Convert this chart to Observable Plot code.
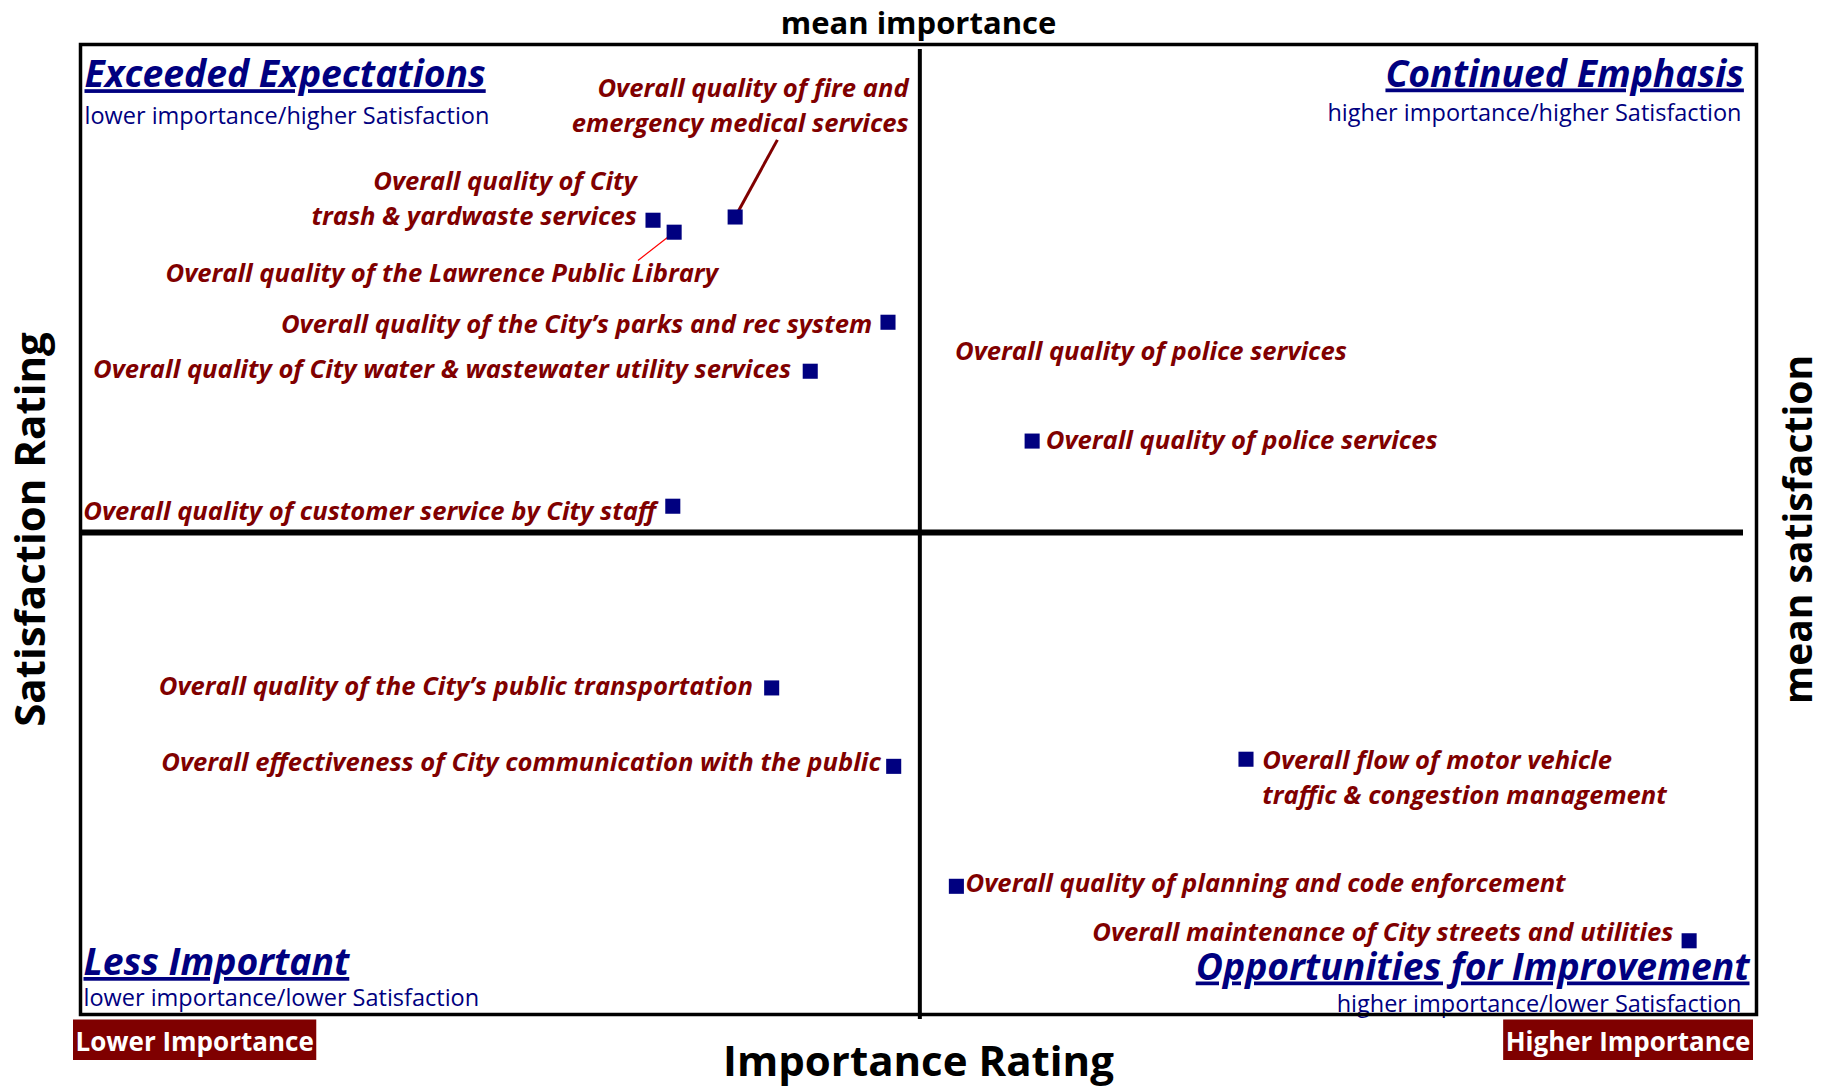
<!DOCTYPE html>
<html>
<head>
<meta charset="utf-8">
<script src="https://cdn.jsdelivr.net/npm/d3@7"></script>
<script src="https://cdn.jsdelivr.net/npm/@observablehq/plot@0.6"></script>
<style>
  html, body { margin: 0; padding: 0; background: #ffffff; }
  #chart svg { display: block; }
</style>
</head>
<body>
<div id="chart"></div>
<script>
// ---------------- DATA ----------------
const services = [
  "fire", "trash", "library", "parks", "water", "customer",
  "police", "transit", "communication", "traffic", "planning", "streets"
];
const serviceLabels = [
  "Overall quality of fire and\nemergency medical services",
  "Overall quality of City\ntrash & yardwaste services",
  "Overall quality of the Lawrence Public Library",
  "Overall quality of the City’s parks and rec system",
  "Overall quality of City water & wastewater utility services",
  "Overall quality of customer service by City staff",
  "Overall quality of police services",
  "Overall quality of the City’s public transportation",
  "Overall effectiveness of City communication with the public",
  "Overall flow of motor vehicle\ntraffic & congestion management",
  "Overall quality of planning and code enforcement",
  "Overall maintenance of City streets and utilities"
];
// importance (x) and satisfaction (y)
const importance   = [19.53, 17.08, 17.71, 24.09, 21.77, 17.67, 28.39, 20.62, 24.26, 34.77, 26.13, 47.99];
const satisfaction = [89.33, 89.13, 88.39, 82.82, 79.79, 71.44, 75.47, 60.20, 55.35, 55.79, 47.93, 44.56];

const meanImportance = 25.04;
const meanSatisfaction = 69.81;
const importanceDomain = [0, 50];
const satisfactionDomain = [40, 100];

// a second, free-standing label for police services
const extraLabelService = "police";
const extraLabelText = "Overall quality of police services";

// leader lines: from a label (importance, satisfaction) to its service's point
const leaderServices = ["fire", "library"];
const leaderImportance = [20.79, 16.63];
const leaderSatisfaction = [94.10, 86.64];

const quadrantTitles = ["Exceeded Expectations", "Continued Emphasis", "Less Important", "Opportunities for Improvement"];
const quadrantSubtitles = [
  "lower importance/higher Satisfaction",
  "higher importance/higher Satisfaction",
  "lower importance/lower Satisfaction",
  "higher importance/lower Satisfaction"
];
const importanceEnds = ["Lower Importance", "Higher Importance"];
const axisTitles = {top: "mean importance", bottom: "Importance Rating", left: "Satisfaction Rating", right: "mean satisfaction"};

// ---------------- TABLES ----------------
const rows = services.map((s, i) => ({
  service: s, label: serviceLabels[i], importance: importance[i], satisfaction: satisfaction[i]
}));
const byService = Object.fromEntries(rows.map(d => [d.service, d]));
const leaders = leaderServices.map((s, i) => ({
  service: s,
  fromImportance: leaderImportance[i], fromSatisfaction: leaderSatisfaction[i],
  toImportance: byService[s].importance, toSatisfaction: byService[s].satisfaction
}));

// ---------------- STYLE / LAYOUT ----------------
const FONT = "'Open Sans', 'Noto Sans', sans-serif";
const labelStyle = {
  fontFamily: FONT, fontSize: 25.6, fontWeight: "bold", fontStyle: "italic",
  fill: "#800000", lineHeight: 1.367, lineAnchor: "bottom"
};
// label nudges in pixels relative to each point (textAnchor, dx, dy to baseline of last line)
const labelNudge = {
  fire:          ["end",   173.5, -84.8],
  trash:         ["end",   -16.2,   5.2],
  library:       ["end",    43.8,  50.0],
  parks:         ["end",   -15.9,  11.0],
  water:         ["end",   -19.1,   6.5],
  customer:      ["end",   -16.7,  14.2],
  police:        ["start",  13.6,   7.8],
  transit:       ["end",   -18.8,   7.5],
  communication: ["end",   -12.9,   4.9],
  traffic:       ["start",  16.3,  44.6],
  planning:      ["start",   9.2,   5.9],
  streets:       ["end",   -15.7,   0.4]
};
const labelMarks = rows.map(d => {
  const [anchor, dx, dy] = labelNudge[d.service];
  return Plot.text([d], {x: "importance", y: "satisfaction", text: "label", textAnchor: anchor, dx, dy, ...labelStyle});
});

const titleStyle = {fontFamily: FONT, fontSize: 37.3, fontWeight: "bold", fontStyle: "italic", fill: "#000080", lineAnchor: "bottom"};
const subStyle = {fontFamily: FONT, fontSize: 23.5, fill: "#000080", lineAnchor: "bottom"};
const corners = [
  {frameAnchor: "top-left",     textAnchor: "start", tdx: 4,     tdy: 42.7,  sdx: 4,   sdy: 79.3},
  {frameAnchor: "top-right",    textAnchor: "end",   tdx: -12.6, tdy: 42,    sdx: -15, sdy: 76.7},
  {frameAnchor: "bottom-left",  textAnchor: "start", tdx: 3,     tdy: -39.5, sdx: 3,   sdy: -8.5},
  {frameAnchor: "bottom-right", textAnchor: "end",   tdx: -7,    tdy: -35,   sdx: -15, sdy: -2.3}
];
const quadrantMarks = corners.flatMap((c, i) => [
  Plot.text([quadrantTitles[i]], {text: d => d, frameAnchor: c.frameAnchor, textAnchor: c.textAnchor, dx: c.tdx, dy: c.tdy, ...titleStyle}),
  Plot.text([quadrantSubtitles[i]], {text: d => d, frameAnchor: c.frameAnchor, textAnchor: c.textAnchor, dx: c.sdx, dy: c.sdy, ...subStyle})
]);

const endStyle = {fontFamily: FONT, fontSize: 26, fontWeight: "bold", fill: "white", lineAnchor: "bottom"};

const axisFont = {fontFamily: FONT, fontWeight: "bold", fill: "black", labelAnchor: "center", labelArrow: "none", ticks: [], tickSize: 0};

const chart = Plot.plot({
  width: 1830,
  height: 1087,
  marginLeft: 80,
  marginRight: 74,
  marginTop: 44,
  marginBottom: 73,
  style: {background: "white", overflow: "visible"},
  x: {domain: importanceDomain},
  y: {domain: satisfactionDomain},
  marks: [
    Plot.axisX({anchor: "top", label: axisTitles.top, labelOffset: 33, fontSize: 31, ...axisFont}),
    Plot.axisX({anchor: "bottom", label: axisTitles.bottom, labelOffset: 61, fontSize: 42, ...axisFont}),
    Plot.axisY({anchor: "left", label: axisTitles.left, labelOffset: 65, fontSize: 42, ...axisFont}),
    Plot.axisY({anchor: "right", label: axisTitles.right, labelOffset: 55, fontSize: 39, ...axisFont}),

    Plot.ruleY([meanSatisfaction], {stroke: "black", strokeWidth: 6, insetRight: 13}),
    Plot.ruleX([meanImportance], {stroke: "black", strokeWidth: 4, insetTop: 5, insetBottom: -5}),

    Plot.link(leaders.filter(d => d.service === "fire"), {
      x1: "fromImportance", y1: "fromSatisfaction", x2: "toImportance", y2: "toSatisfaction",
      stroke: "#800000", strokeWidth: 3
    }),
    Plot.link(leaders.filter(d => d.service === "library"), {
      x1: "fromImportance", y1: "fromSatisfaction", x2: "toImportance", y2: "toSatisfaction",
      stroke: "#ff0000", strokeWidth: 1.2
    }),

    Plot.dot(rows, {x: "importance", y: "satisfaction", symbol: "square", r: 8.5, fill: "#000080"}),

    ...labelMarks,
    Plot.text([byService[extraLabelService]], {
      x: "importance", y: "satisfaction", text: () => extraLabelText,
      textAnchor: "start", dx: -77.1, dy: -81.2, ...labelStyle
    }),

    ...quadrantMarks,

    Plot.text([importanceEnds[0]], {text: d => d, frameAnchor: "bottom-left", textAnchor: "start", dx: -5, dy: 36, ...endStyle}),
    Plot.text([importanceEnds[1]], {text: d => d, frameAnchor: "bottom-right", textAnchor: "end", dx: -6, dy: 36, ...endStyle}),

    Plot.frame({stroke: "black", strokeWidth: 3.5})
  ]
});

document.getElementById("chart").append(chart);

// Underline quadrant titles, and put dark-red boxes behind the importance end labels
const svg = d3.select(chart.tagName === "svg" ? chart : chart.querySelector("svg"));
svg.selectAll("text")
  .filter(function () { return quadrantTitles.includes(this.textContent); })
  .style("text-decoration", "underline");
svg.selectAll("text")
  .filter(function () { return importanceEnds.includes(this.textContent); })
  .each(function () {
    const b = this.getBBox();
    const rect = document.createElementNS("http://www.w3.org/2000/svg", "rect");
    rect.setAttribute("x", b.x - 2.5);
    rect.setAttribute("y", b.y - 3);
    rect.setAttribute("width", b.width + 5);
    rect.setAttribute("height", b.height + 4.5);
    rect.setAttribute("fill", "#7f0000");
    const t = this.getAttribute("transform");
    if (t) rect.setAttribute("transform", t);
    this.parentNode.insertBefore(rect, this);
  });
</script>
</body>
</html>
